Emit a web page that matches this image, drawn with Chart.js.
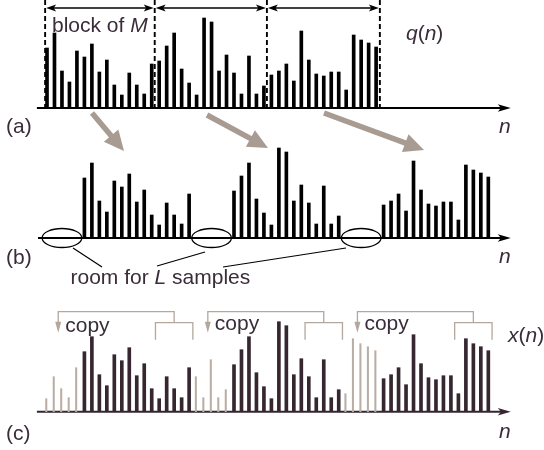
<!DOCTYPE html>
<html>
<head>
<meta charset="utf-8">
<title>Blocks with room for L samples</title>
<style>
body { margin: 0; background: white; }
#box { width: 544px; height: 450px; }
</style>
</head>
<body>
<div id="box"><canvas id="myChart" width="544" height="450"></canvas></div>
<script src="https://cdn.jsdelivr.net/npm/chart.js@4.4.0/dist/chart.umd.min.js"></script>
<script>
// sample heights of the three blocks
const block1 = [60, 75, 37, 26, 57, 51, 64, 36, 48, 23, 13, 35, 23, 14, 44];
const block2 = [47, 62, 75, 39, 25, 13, 90, 86, 37, 53, 35, 14, 52, 14, 22];
const block3 = [33, 37, 44, 27, 77, 48, 34, 32, 36, 36, 18, 73, 68, 65, 61];
const blocks = [block1, block2, block3];
const M = 15;   // samples per block
const L = 5;    // room left between blocks

const panelLabels = ['(a)', '(b)', '(c)'];

// colours
const black = '#000000';
const ink = '#3a2c38';
const cDark = '#35262f';
const cCopy = '#b9ada4';
const bigArrow = '#a89b92';
const bracketGrey = '#b3a79e';

// pixel baselines of the three panels
const H = 450;
const baseA = 108, baseB = 238, baseC = 411.7;

// build the series
const qData = [];
const bData = [];
const copyData = [];
blocks.forEach(function(blk, k) {
    blk.forEach(function(v, j) {
        qData.push({x: k * M + j, y: v});
        bData.push({x: k * (M + L) + L + j, y: v});
    });
    blk.slice(M - L).forEach(function(v, j) {
        copyData.push({x: k * (M + L) + j - 0.1, y: v});
    });
});

const FONT = '21px "Liberation Sans", Arial, sans-serif';
const IFONT = 'italic 21px "Liberation Sans", Arial, sans-serif';

// draw text made of plain / italic pieces
function richText(ctx, parts, x, y, col) {
    ctx.fillStyle = col;
    ctx.textBaseline = 'alphabetic';
    ctx.textAlign = 'left';
    parts.forEach(function(p) {
        ctx.font = p[1] ? IFONT : FONT;
        ctx.fillText(p[0], x, y);
        x += ctx.measureText(p[0]).width;
    });
}

function head(ctx, x, y, ang, len, half, col) {
    ctx.save();
    ctx.translate(x, y);
    ctx.rotate(ang);
    ctx.fillStyle = col;
    ctx.beginPath();
    ctx.moveTo(0, 0);
    ctx.lineTo(-len, -half);
    ctx.lineTo(-len * 0.75, 0);
    ctx.lineTo(-len, half);
    ctx.closePath();
    ctx.fill();
    ctx.restore();
}

function line(ctx, x1, y1, x2, y2, col, w) {
    ctx.strokeStyle = col;
    ctx.lineWidth = w;
    ctx.beginPath();
    ctx.moveTo(x1, y1);
    ctx.lineTo(x2, y2);
    ctx.stroke();
}

const sketch = {
    id: 'sketch',
    beforeDatasetsDraw(chart) {
        const ctx = chart.ctx;
        const X = chart.scales.x;
        const axes = [['ya', black, -1.35], ['yb', black, -1.2], ['yc', cDark, -1.35]];
        ctx.save();
        axes.forEach(function(a) {
            const y = chart.scales[a[0]].getPixelForValue(0);
            const x1 = X.getPixelForValue(a[2]);
            const x2 = X.getPixelForValue(62);
            line(ctx, x1, y, x2 - 8, y, a[1], 2);
            head(ctx, x2, y, 0, 13, 3.8, a[1]);
        });
        ctx.restore();
    },
    afterDatasetsDraw(chart) {
        const ctx = chart.ctx;
        const X = chart.scales.x, ya = chart.scales.ya, yb = chart.scales.yb, yc = chart.scales.yc;
        ctx.save();

        // (a) block limits and block arrows
        const limits = [-0.25, 14.4, 29.4, 44.5].map(function(i) { return X.getPixelForValue(i); });
        ctx.setLineDash([5, 3]);
        limits.forEach(function(x) { line(ctx, x, 0, x, ya.getPixelForValue(0), black, 1.9); });
        ctx.setLineDash([]);
        const ay = ya.getPixelForValue(100);
        for (let i = 0; i < 3; i++) {
            const x1 = limits[i] + 1, x2 = limits[i + 1] - 1;
            line(ctx, x1 + 5, ay, x2 - 5, ay, black, 1.3);
            head(ctx, x1, ay, Math.PI, 10, 3.5, black);
            head(ctx, x2, ay, 0, 10, 3.5, black);
        }
        richText(ctx, [['block of ', false], ['M', true]], 52, 32, ink);
        richText(ctx, [['q', true], ['(', false], ['n', true], [')', false]], 406, 40, ink);

        // panel labels and n
        const labY = [132.5, 264, 439.5];
        const nY = [133.3, 263.3, 438.3];
        panelLabels.forEach(function(t, i) {
            richText(ctx, [[t, false]], 6, labY[i], ink);
            richText(ctx, [['n', true]], 499, nY[i], ink);
        });

        // big grey arrows (a) -> (b)
        const arrows = [[92, 113, 124, 151], [207, 115, 268, 148], [324, 113, 424, 150]];
        arrows.forEach(function(a) {
            const ang = Math.atan2(a[3] - a[1], a[2] - a[0]);
            const bx = a[2] - 16 * Math.cos(ang), by = a[3] - 16 * Math.sin(ang);
            ctx.lineCap = 'butt';
            line(ctx, a[0], a[1], bx, by, bigArrow, 5.5);
            ctx.save();
            ctx.translate(a[2], a[3]);
            ctx.rotate(ang);
            ctx.fillStyle = bigArrow;
            ctx.beginPath();
            ctx.moveTo(0, 0);
            ctx.lineTo(-20, -9.5);
            ctx.lineTo(-20, 9.5);
            ctx.closePath();
            ctx.fill();
            ctx.restore();
        });

        // (b) ellipses for the room of L samples
        const ey = yb.getPixelForValue(0);
        const step = X.getPixelForValue(1) - X.getPixelForValue(0);
        [2, 22, 42].forEach(function(i) {
            ctx.strokeStyle = black;
            ctx.lineWidth = 1.3;
            ctx.beginPath();
            ctx.ellipse(X.getPixelForValue(i), ey, step * 2.65, 9.5, 0, 0, Math.PI * 2);
            ctx.stroke();
        });
        [[73, 248, 102, 267], [205, 252, 157, 266], [346, 248, 223, 267]].forEach(function(l) {
            line(ctx, l[0], l[1], l[2], l[3], black, 1.2);
        });
        richText(ctx, [['room for ', false], ['L', true], [' samples', false]], 70.5, 284, ink);

        // (c) copy brackets
        for (let k = 0; k < 3; k++) {
            const g = k * (M + L);
            const xa = X.getPixelForValue(g + 1.5);
            const xm = X.getPixelForValue(g + 17);
            const xl = X.getPixelForValue(g + 14.5);
            const xr = X.getPixelForValue(g + 19.5);
            const yt = yc.getPixelForValue(100);
            const yi = yc.getPixelForValue(89);
            const yl = yc.getPixelForValue(72);
            const yh = yc.getPixelForValue(79);
            ctx.strokeStyle = bracketGrey;
            ctx.lineWidth = 1.3;
            ctx.beginPath();
            ctx.moveTo(xa, yh - 8);
            ctx.lineTo(xa, yt);
            ctx.lineTo(xm, yt);
            ctx.lineTo(xm, yi);
            ctx.moveTo(xl, yl);
            ctx.lineTo(xl, yi);
            ctx.lineTo(xr, yi);
            ctx.lineTo(xr, yl);
            ctx.stroke();
            ctx.fillStyle = bracketGrey;
            ctx.beginPath();
            ctx.moveTo(xa, yh);
            ctx.lineTo(xa - 3, yh - 11);
            ctx.lineTo(xa + 3, yh - 11);
            ctx.closePath();
            ctx.fill();
            richText(ctx, [['copy', false]], xa + 7, k === 0 ? 331.5 : 330, ink);
        }
        richText(ctx, [['x', true], ['(', false], ['n', true], [')', false]], 508, 341.7, ink);

        ctx.restore();
    }
};

function yScale(base) {
    return { type: 'linear', display: false, min: -(H - base), max: base };
}

const data = {
    datasets: [
        { label: 'q(n)', data: qData, yAxisID: 'ya', backgroundColor: black, barThickness: 3 },
        { label: 'blocks spread', data: bData, yAxisID: 'yb', backgroundColor: black, barThickness: 3 },
        { label: 'x(n)', data: bData, yAxisID: 'yc', backgroundColor: cDark, barThickness: 3 },
        { label: 'copies', data: copyData, yAxisID: 'yc', backgroundColor: cCopy, barThickness: 1.4 }
    ]
};

const config = {
    type: 'bar',
    data,
    options: {
        responsive: false,
        animation: false,
        grouped: false,
        layout: { padding: 0 },
        plugins: { legend: { display: false }, tooltip: { enabled: false } },
        scales: {
            x: { type: 'linear', display: false, offset: false, min: -47 / 7.48, max: -47 / 7.48 + 544 / 7.48 },
            ya: yScale(baseA),
            yb: yScale(baseB),
            yc: yScale(baseC)
        }
    },
    plugins: [sketch]
};

const myChart = new Chart(document.getElementById('myChart'), config);
</script>
</body>
</html>
